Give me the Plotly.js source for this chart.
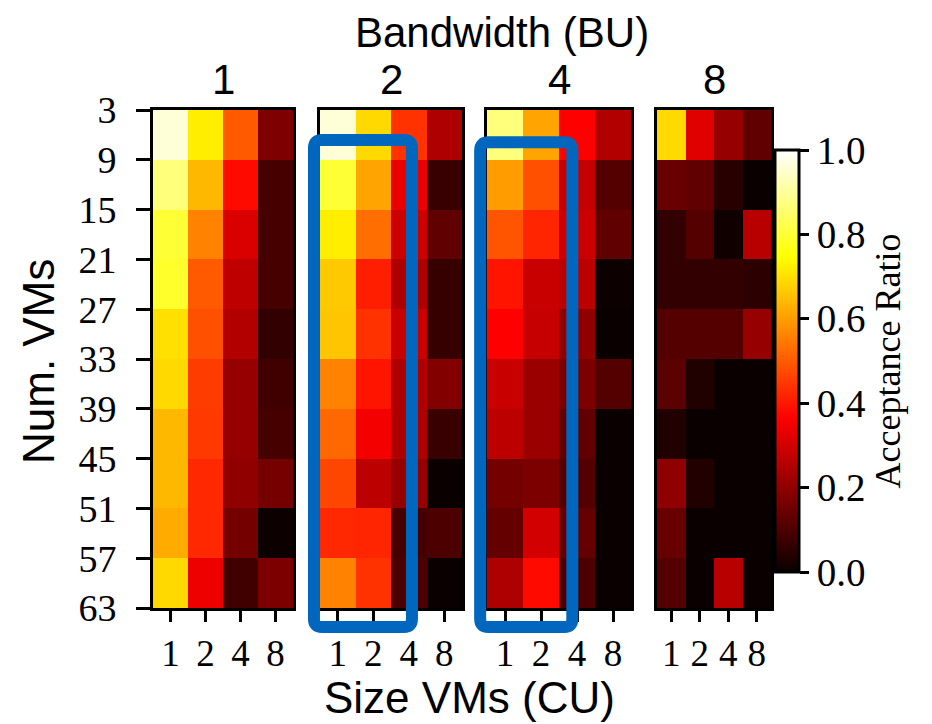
<!DOCTYPE html>
<html>
<head>
<meta charset="utf-8">
<script src="https://cdn.plot.ly/plotly-3.0.1.min.js"></script>
<style>html,body{margin:0;padding:0;background:#fff}#chart{width:932px;height:724px}</style>
</head>
<body>
<div id="chart"></div>
<script>
// ---- data ----
const bandwidths = ["1", "2", "4", "8"];           // panel titles (BU)
const sizeLabels = ["1", "2", "4", "8"];           // x tick labels (CU)
const numVMsEdges = [3, 9, 15, 21, 27, 33, 39, 45, 51, 57, 63]; // y tick labels / row edges

// rows: 3-9, 9-15, ..., 57-63 ; columns: size 1,2,4,8
const bw1 = [
  [0.96, 0.72, 0.50, 0.175],
  [0.87, 0.64, 0.38, 0.09],
  [0.80, 0.56, 0.31, 0.09],
  [0.79, 0.50, 0.27, 0.09],
  [0.70, 0.485, 0.25, 0.06],
  [0.69, 0.455, 0.21, 0.08],
  [0.64, 0.45, 0.21, 0.09],
  [0.64, 0.425, 0.20, 0.16],
  [0.62, 0.425, 0.16, 0.005],
  [0.69, 0.34, 0.08, 0.17]
];
const bw2 = [
  [0.96, 0.69, 0.44, 0.245],
  [0.80, 0.61, 0.335, 0.07],
  [0.72, 0.53, 0.29, 0.13],
  [0.665, 0.41, 0.245, 0.065],
  [0.66, 0.44, 0.285, 0.065],
  [0.56, 0.395, 0.245, 0.18],
  [0.52, 0.35, 0.245, 0.07],
  [0.47, 0.265, 0.21, 0.0],
  [0.425, 0.42, 0.09, 0.10],
  [0.56, 0.44, 0.10, 0.0]
];
const bw4 = [
  [0.87, 0.61, 0.365, 0.25],
  [0.60, 0.485, 0.28, 0.11],
  [0.49, 0.42, 0.29, 0.13],
  [0.395, 0.285, 0.265, 0.005],
  [0.365, 0.28, 0.20, 0.0],
  [0.285, 0.215, 0.17, 0.11],
  [0.265, 0.215, 0.13, 0.0],
  [0.16, 0.17, 0.11, 0.0],
  [0.135, 0.30, 0.135, 0.0],
  [0.245, 0.38, 0.10, 0.0]
];
const bw8 = [
  [0.69, 0.32, 0.21, 0.13],
  [0.14, 0.13, 0.045, 0.0],
  [0.06, 0.11, 0.01, 0.26],
  [0.06, 0.06, 0.06, 0.05],
  [0.11, 0.11, 0.11, 0.21],
  [0.12, 0.035, 0.0, 0.0],
  [0.035, 0.0, 0.0, 0.0],
  [0.20, 0.035, 0.0, 0.0],
  [0.14, 0.0, 0.0, 0.0],
  [0.11, 0.0, 0.26, 0.0]
];
const panels = [bw1, bw2, bw4, bw8];

// ---- layout ----
const W = 932, H = 724;
const xDomPx = [[153, 293], [320, 462], [487, 631], [657, 771]];
const yDomPx = [110, 608];
const yDom = [1 - yDomPx[1] / H, 1 - yDomPx[0] / H];

const hot = [
  [0, 'rgb(10,0,0)'],
  [0.365079, 'rgb(255,0,0)'],
  [0.746032, 'rgb(255,255,0)'],
  [1, 'rgb(255,255,255)']
];

const xCenters = sizeLabels.map((_, i) => i);
const serif = 'Liberation Serif';
const sans = 'Liberation Sans';

const traces = panels.map((z, k) => {
  const t = {
    type: 'heatmap',
    z: z,
    x: xCenters,
    y: numVMsEdges,
    zmin: 0, zmax: 1,
    colorscale: hot,
    showscale: k === 0,
    xaxis: k === 0 ? 'x' : 'x' + (k + 1),
    yaxis: k === 0 ? 'y' : 'y' + (k + 1),
    hoverongaps: false
  };
  if (k === 0) {
    t.colorbar = {
      x: 775 / W, xanchor: 'left', xref: 'paper',
      y: 1 - 572 / H, yanchor: 'bottom', yref: 'paper',
      len: (572 - 150) / H, lenmode: 'fraction',
      thickness: 24, thicknessmode: 'pixels',
      xpad: 0, ypad: 0,
      outlinewidth: 3, outlinecolor: 'black',
      ticks: 'outside', ticklen: 9, tickwidth: 3, tickcolor: 'black',
      tickvals: [0, 0.2, 0.4, 0.6, 0.8, 1.0],
      ticktext: ['0.0', '0.2', '0.4', '0.6', '0.8', '1.0'],
      tickfont: {family: serif, size: 39, color: 'black'},
      ticklabelstandoff: 4,
      title: {text: 'Acceptance Ratio', side: 'right', font: {family: serif, size: 36, color: 'black'}}
    };
  }
  return t;
});

const layout = {
  width: W, height: H,
  margin: {l: 0, r: 0, t: 0, b: 0},
  paper_bgcolor: 'white', plot_bgcolor: 'white',
  font: {family: serif, color: 'black'},
  showlegend: false,
  annotations: [],
  shapes: []
};

for (let k = 0; k < 4; k++) {
  const sx = k === 0 ? '' : String(k + 1);
  layout['xaxis' + sx] = {
    domain: [xDomPx[k][0] / W, xDomPx[k][1] / W],
    anchor: 'y' + sx,
    range: [-0.5, sizeLabels.length - 0.5],
    tickvals: xCenters, ticktext: sizeLabels,
    ticks: 'outside', ticklen: 11, tickwidth: 3, tickcolor: 'black',
    tickfont: {family: serif, size: 37, color: 'black'},
    ticklabelstandoff: 0,
    showline: true, linewidth: 3, linecolor: 'black', mirror: true,
    showgrid: false, zeroline: false, fixedrange: true
  };
  layout['yaxis' + sx] = {
    domain: yDom,
    anchor: 'x' + sx,
    range: [numVMsEdges[numVMsEdges.length - 1], numVMsEdges[0]],
    tickvals: numVMsEdges, ticktext: numVMsEdges.map(String),
    ticks: k === 0 ? 'outside' : '',
    showticklabels: k === 0,
    ticklen: 14, tickwidth: 3, tickcolor: 'black',
    tickfont: {family: serif, size: 38, color: 'black'},
    ticklabelstandoff: 12,
    showline: true, linewidth: 3, linecolor: 'black', mirror: true,
    showgrid: false, zeroline: false, fixedrange: true
  };
  layout.annotations.push({
    text: bandwidths[k], xref: 'paper', yref: 'paper',
    x: (xDomPx[k][0] + xDomPx[k][1]) / 2 / W, y: 1 - 80 / H,
    xanchor: 'center', yanchor: 'middle', showarrow: false,
    font: {family: sans, size: 42, color: 'black'}
  });
}

layout.annotations.push(
  {text: 'Bandwidth (BU)', xref: 'paper', yref: 'paper', x: 502 / W, y: 1 - 32 / H,
   xanchor: 'center', yanchor: 'middle', showarrow: false, font: {family: sans, size: 42, color: 'black'}},
  {text: 'Size VMs (CU)', xref: 'paper', yref: 'paper', x: 469 / W, y: 0,
   xanchor: 'center', yanchor: 'bottom', showarrow: false, font: {family: sans, size: 44, color: 'black'}},
  {text: 'Num. VMs', xref: 'paper', yref: 'paper', x: 38 / W, y: 1 - 362 / H, textangle: -90,
   xanchor: 'center', yanchor: 'middle', showarrow: false, font: {family: sans, size: 44, color: 'black'}}
);

// highlight boxes (panel index, left/right in column units, top/bottom in Num.VMs units)
const highlights = [
  {panel: 1, x0: -0.67, x1: 2.09, y0: 6.6, y1: 65.3},
  {panel: 2, x0: -0.69, x1: 1.87, y0: 6.9, y1: 65.3}
];
function toPaperX(k, v) {
  const [a, b] = xDomPx[k];
  return (a + (v + 0.5) / sizeLabels.length * (b - a)) / W;
}
function toPaperY(v) {
  const lo = numVMsEdges[0], hi = numVMsEdges[numVMsEdges.length - 1];
  const px = yDomPx[0] + (v - lo) / (hi - lo) * (yDomPx[1] - yDomPx[0]);
  return 1 - px / H;
}
highlights.forEach(h => {
  const L = toPaperX(h.panel, h.x0), R = toPaperX(h.panel, h.x1);
  const T = toPaperY(h.y0), B = toPaperY(h.y1);
  const rx = 8 / W, ry = 8 / H;
  const p = `M ${L + rx},${T} L ${R - rx},${T} Q ${R},${T} ${R},${T - ry} ` +
            `L ${R},${B + ry} Q ${R},${B} ${R - rx},${B} L ${L + rx},${B} ` +
            `Q ${L},${B} ${L},${B + ry} L ${L},${T - ry} Q ${L},${T} ${L + rx},${T} Z`;
  layout.shapes.push({type: 'path', xref: 'paper', yref: 'paper', path: p,
    line: {color: '#0066BE', width: 12}, fillcolor: 'rgba(0,0,0,0)', layer: 'above'});
});

Plotly.newPlot('chart', traces, layout, {displayModeBar: false, staticPlot: true});
</script>
</body>
</html>
